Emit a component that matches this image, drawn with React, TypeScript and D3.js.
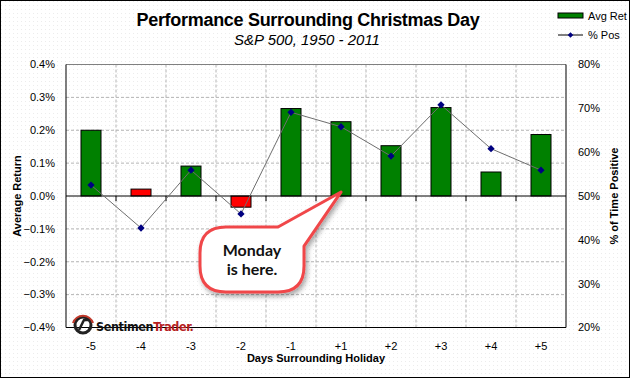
import React from "react";
import * as d3 from "d3";

const days = ["-5", "-4", "-3", "-2", "-1", "+1", "+2", "+3", "+4", "+5"];
const avgRet = [0.2, 0.021, 0.091, -0.034, 0.266, 0.226, 0.153, 0.269, 0.073, 0.187];
const pctPos = [52.5, 42.7, 55.9, 45.9, 69.1, 65.8, 59.1, 70.8, 60.8, 55.9];
const redDays = ["-4", "-2"];
const leftTicks = [0.4, 0.3, 0.2, 0.1, 0, -0.1, -0.2, -0.3, -0.4];
const rightTicks = [80, 70, 60, 50, 40, 30, 20];

const W = 631;
const H = 379;
const M = { left: 66, right: 566, top: 64.5, bottom: 327.5 };
const FONT = "'Liberation Sans', Arial, sans-serif";

export default function App() {
  const x = d3.scaleBand<string>().domain(days).range([M.left, M.right]).paddingInner(0.6).paddingOuter(0.3);
  const step = x.step();
  const yL = d3.scaleLinear().domain([-0.4, 0.4]).range([M.bottom, M.top]);
  const yR = d3.scaleLinear().domain([20, 80]).range([M.bottom, M.top]);
  const cx = (d: string) => (x(d) as number) + x.bandwidth() / 2;
  const line = d3
    .line<number>()
    .x((_, i) => cx(days[i]))
    .y((v) => yR(v));
  const boundaries = d3.range(1, days.length).map((i) => M.left + i * step);
  const diamond = d3.symbol().type(d3.symbolDiamond2).size(34)();
  const legendDiamond = d3.symbol().type(d3.symbolDiamond2).size(20)();

  // callout geometry anchored to the +1 bar
  const tipX = cx("+1");
  const tipY = yL(0.012);
  const bx0 = tipX - 141, bx1 = tipX - 37, by0 = tipY + 35, by1 = tipY + 100, r = 26;
  const bubble = [
    `M ${bx0 + r} ${by0}`,
    `L ${bx1 - r} ${by0}`,
    `L ${tipX} ${tipY}`,
    `L ${bx1} ${by0 + 19}`,
    `L ${bx1} ${by1 - r}`,
    `Q ${bx1} ${by1} ${bx1 - r} ${by1}`,
    `L ${bx0 + r} ${by1}`,
    `Q ${bx0} ${by1} ${bx0} ${by1 - r}`,
    `L ${bx0} ${by0 + r}`,
    `Q ${bx0} ${by0} ${bx0 + r} ${by0}`,
    "Z",
  ].join(" ");
  const bcx = (bx0 + bx1) / 2;

  return (
    <svg
      width={W}
      height={H}
      style={{ position: "absolute", left: 0, top: 0, background: "#fff" }}
      fontFamily={FONT}
    >
      <defs>
        <pattern id="dots" width="4" height="4" patternUnits="userSpaceOnUse">
          <rect x="1" y="1" width="1" height="1" fill="#ececec" />
        </pattern>
        <filter id="shadow" x="-30%" y="-30%" width="160%" height="160%">
          <feDropShadow dx="2" dy="3" stdDeviation="2.5" floodColor="#000" floodOpacity="0.35" />
        </filter>
      </defs>
      <rect x={0} y={0} width={W} height={H} fill="url(#dots)" />
      <rect x={0.5} y={0.5} width={W - 2} height={H - 2} fill="none" stroke="#000" strokeWidth={1} />

      {/* plot background */}
      <rect x={M.left} y={M.top} width={M.right - M.left} height={M.bottom - M.top} fill="#fff" />
      <rect x={M.left} y={M.top} width={M.right - M.left} height={M.bottom - M.top} fill="url(#dots)" />

      {/* grid */}
      {leftTicks
        .filter((t) => t !== 0 && Math.abs(t) !== 0.4)
        .map((t) => (
          <line key={"h" + t} x1={M.left} x2={M.right} y1={yL(t)} y2={yL(t)} stroke="#b4b4b4" strokeDasharray="3,2" />
        ))}
      {boundaries.map((b, i) => (
        <line key={"v" + i} x1={b} x2={b} y1={M.top} y2={M.bottom} stroke="#b4b4b4" strokeDasharray="3,2" />
      ))}

      {/* frame */}
      <line x1={M.left} x2={M.right} y1={M.top} y2={M.top} stroke="#808080" />
      <line x1={M.left} x2={M.left} y1={M.top} y2={M.bottom} stroke="#000" />
      <line x1={M.right} x2={M.right} y1={M.top} y2={M.bottom} stroke="#000" />
      <line x1={M.left} x2={M.right} y1={M.bottom} y2={M.bottom} stroke="#000" />

      {/* bars */}
      {days.map((d, i) => {
        const v = avgRet[i];
        const y0 = yL(Math.max(0, v));
        const y1 = yL(Math.min(0, v));
        return (
          <rect
            key={"b" + d}
            x={x(d)}
            y={y0}
            width={x.bandwidth()}
            height={y1 - y0}
            fill={redDays.includes(d) ? "#ff0000" : "#008000"}
            stroke="#000"
            strokeWidth={1}
          />
        );
      })}

      {/* zero line & ticks */}
      <line x1={M.left} x2={M.right} y1={yL(0)} y2={yL(0)} stroke="#000" />
      {boundaries.map((b, i) => (
        <line key={"t" + i} x1={b} x2={b} y1={yL(0)} y2={yL(0) + 5} stroke="#000" />
      ))}

      {/* % pos line */}
      <path d={line(pctPos) || ""} fill="none" stroke="#6e6e6e" strokeWidth={1} />
      {pctPos.map((v, i) => (
        <path key={"m" + i} d={diamond || ""} transform={`translate(${cx(days[i])},${yR(v)})`} fill="#000080" />
      ))}

      {/* left axis labels */}
      {leftTicks.map((t) => (
        <text key={"l" + t} x={55} y={yL(t)} dy="0.35em" textAnchor="end" fontSize={11} fill="#000">
          {d3.format(".1f")(t) + "%"}
        </text>
      ))}
      {/* right axis labels */}
      {rightTicks.map((t) => (
        <text key={"r" + t} x={578} y={yR(t)} dy="0.35em" textAnchor="start" fontSize={11} fill="#000">
          {t + "%"}
        </text>
      ))}
      {/* x labels */}
      {days.map((d) => (
        <text key={"x" + d} x={cx(d)} y={346} dy="0.35em" textAnchor="middle" fontSize={11} fill="#000">
          {d}
        </text>
      ))}

      {/* axis titles */}
      <text x={316} y={358} dy="0.35em" textAnchor="middle" fontSize={11} fontWeight="bold">
        Days Surrounding Holiday
      </text>
      <text
        transform={`translate(17,${yL(0)}) rotate(-90)`}
        dy="0.35em"
        textAnchor="middle"
        fontSize={11}
        fontWeight="bold"
      >
        Average Return
      </text>
      <text
        transform={`translate(614,${yL(0)}) rotate(-90)`}
        dy="0.35em"
        textAnchor="middle"
        fontSize={11}
        fontWeight="bold"
      >
        % of Time Positive
      </text>

      {/* titles */}
      <text x={308} y={20} dy="0.35em" textAnchor="middle" fontSize={18} fontWeight="bold" letterSpacing={-0.3}>
        Performance Surrounding Christmas Day
      </text>
      <text x={307} y={40} dy="0.35em" textAnchor="middle" fontSize={15} fontStyle="italic">
        S&amp;P 500, 1950 - 2011
      </text>

      {/* legend */}
      <rect x={558} y={13} width={25} height={5} fill="#008000" stroke="#000" strokeWidth={1} />
      <text x={588} y={16} dy="0.35em" fontSize={11}>
        Avg Ret
      </text>
      <line x1={558} x2={583} y1={35} y2={35} stroke="#000" />
      <path d={legendDiamond || ""} transform="translate(570.5,35)" fill="#000080" />
      <text x={588} y={35} dy="0.35em" fontSize={11}>
        % Pos
      </text>

      {/* logo */}
      <g>
        <circle cx={83} cy={325} r={8} fill="none" stroke="#222" strokeWidth={3} />
        <path d="M 73 323 A 10.5 10.5 0 0 1 93 323" fill="none" stroke="#c0392b" strokeWidth={2} />
        <path d="M 79 330 L 84 320 L 88 320" fill="none" stroke="#222" strokeWidth={2.5} />
        <text
          x={96}
          y={331}
          fontSize={12.5}
          fontWeight="bold"
          fontFamily="'DejaVu Sans Condensed', 'DejaVu Sans', sans-serif"
          letterSpacing={-0.4}
        >
          <tspan fill="#111">Sentimen</tspan>
          <tspan fill="#b5201e">Trader.</tspan>
        </text>
      </g>

      {/* callout */}
      <path d={bubble} fill="#fff" stroke="#f0474a" strokeWidth={3} strokeLinejoin="round" filter="url(#shadow)" />
      <text x={bcx} y={by0 + 29} textAnchor="middle" fontSize={16} fontWeight="bold" fontFamily="Lato, 'Open Sans', sans-serif" fill="#111">
        Monday
      </text>
      <text x={bcx} y={by0 + 48} textAnchor="middle" fontSize={16} fontWeight="bold" fontFamily="Lato, 'Open Sans', sans-serif" fill="#111">
        is here.
      </text>
    </svg>
  );
}
